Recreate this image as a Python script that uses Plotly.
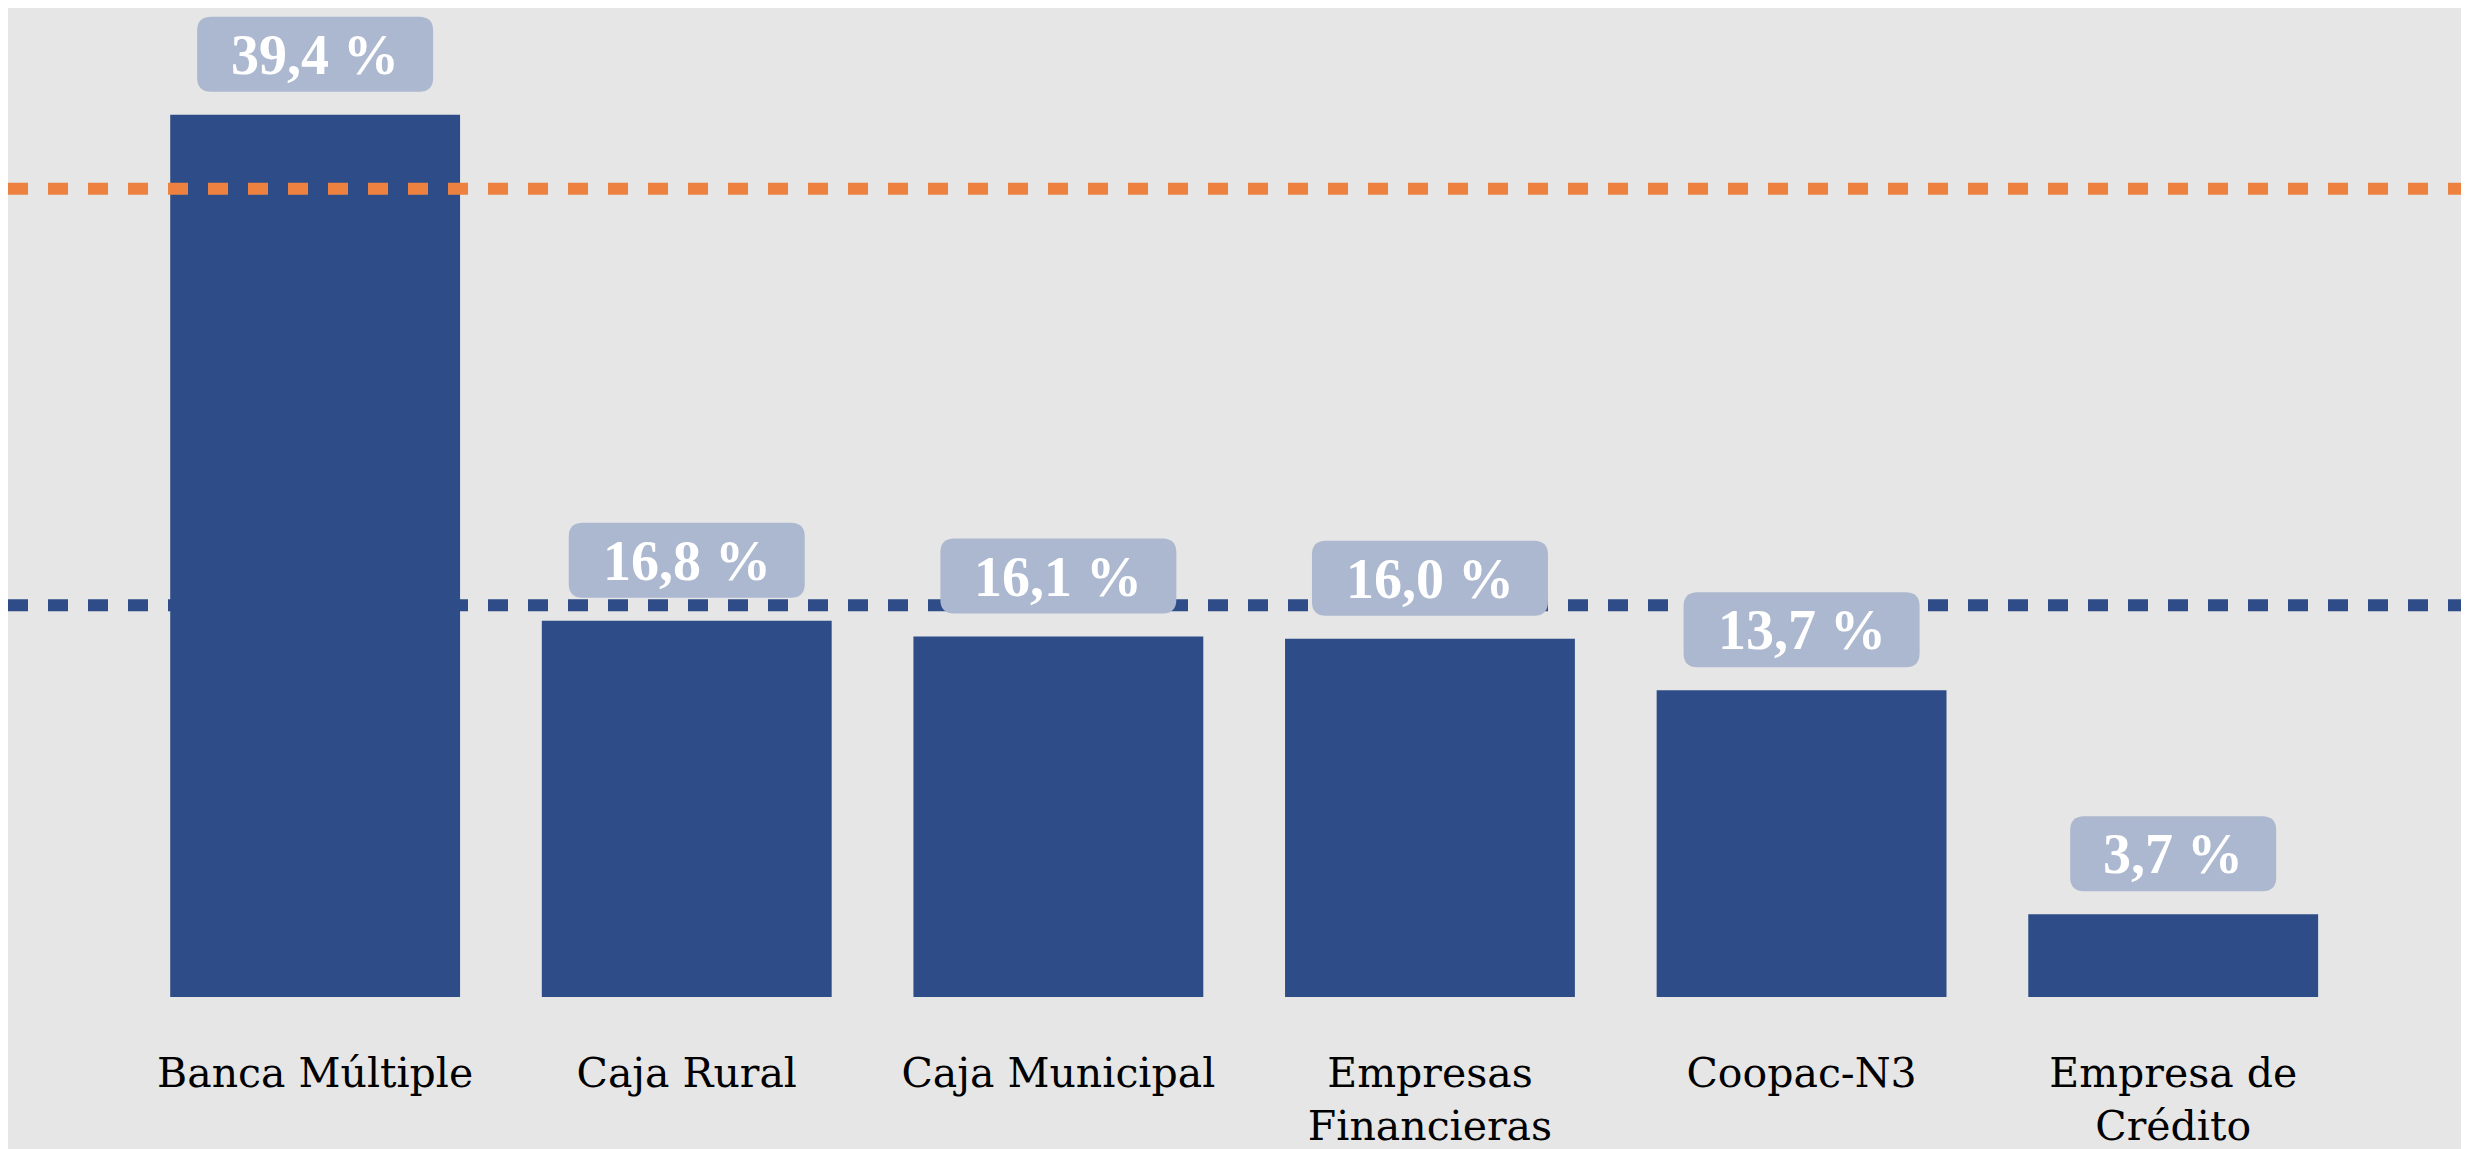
import plotly.graph_objects as go

# data
categories = ["Banca Múltiple", "Caja Rural", "Caja Municipal",
              "Empresas<br>Financieras", "Coopac-N3", "Empresa de<br>Crédito"]
values = [39.4, 16.8, 16.1, 16.0, 13.7, 3.7]
ref_orange = 36.1
ref_navy = 17.5

BG = "#E6E6E6"
NAVY = "#2E4D88"
ORANGE = "#ED8240"
BOX = "#ACB8CF"
FONT = "Liberation Serif"
TICK_FONT = "DejaVu Serif"


def fmt(v):
    return f"{v:.1f}".replace(".", ",") + " %"


def rounded_box(w, h, r, b):
    # path in pixels relative to the anchor, y going up
    l, rt, t = -w / 2, w / 2, b + h
    return (f"M {l + r},{b} L {rt - r},{b} Q {rt},{b} {rt},{b + r} "
            f"L {rt},{t - r} Q {rt},{t} {rt - r},{t} "
            f"L {l + r},{t} Q {l},{t} {l},{t - r} "
            f"L {l},{b + r} Q {l},{b} {l + r},{b} Z")


fig = go.Figure(go.Bar(x=list(range(len(values))), y=values,
                       marker_color=NAVY, marker_line_width=0))

fig.add_hline(y=ref_orange, line_color=ORANGE, line_width=12,
              line_dash="20px,20px", layer="above")
fig.add_hline(y=ref_navy, line_color=NAVY, line_width=12,
              line_dash="20px,20px", layer="above")

for i, v in enumerate(values):
    txt = fmt(v)
    w = 56 + 30 * len(txt)
    fig.add_shape(type="path", xref="x", yref="y",
                  xsizemode="pixel", ysizemode="pixel",
                  xanchor=i, yanchor=v,
                  path=rounded_box(w, 75, 14, 23),
                  fillcolor=BOX, line_width=0, layer="above")
    fig.add_annotation(x=i, y=v, text=f"<b>{txt}</b>", showarrow=False,
                       yshift=60, yanchor="middle",
                       font=dict(family=FONT, size=56, color="white"))

# page body adds an 8px offset, so the figure is a bit smaller
fig.update_layout(
    width=2461, height=1141,
    paper_bgcolor=BG, plot_bgcolor=BG,
    margin=dict(l=0, r=0, t=0, b=152),
    showlegend=False,
    bargap=0.22,
    font=dict(family=TICK_FONT, size=41, color="black"),
)
fig.update_xaxes(range=[-0.8265, 5.796], tickmode="array",
                 tickvals=list(range(len(categories))), ticktext=categories,
                 showgrid=False, zeroline=False, showline=False,
                 ticks="", ticklabelstandoff=48, automargin=False)
fig.update_yaxes(range=[0, 44.17], visible=False, automargin=False)

fig.write_html("out.html")
